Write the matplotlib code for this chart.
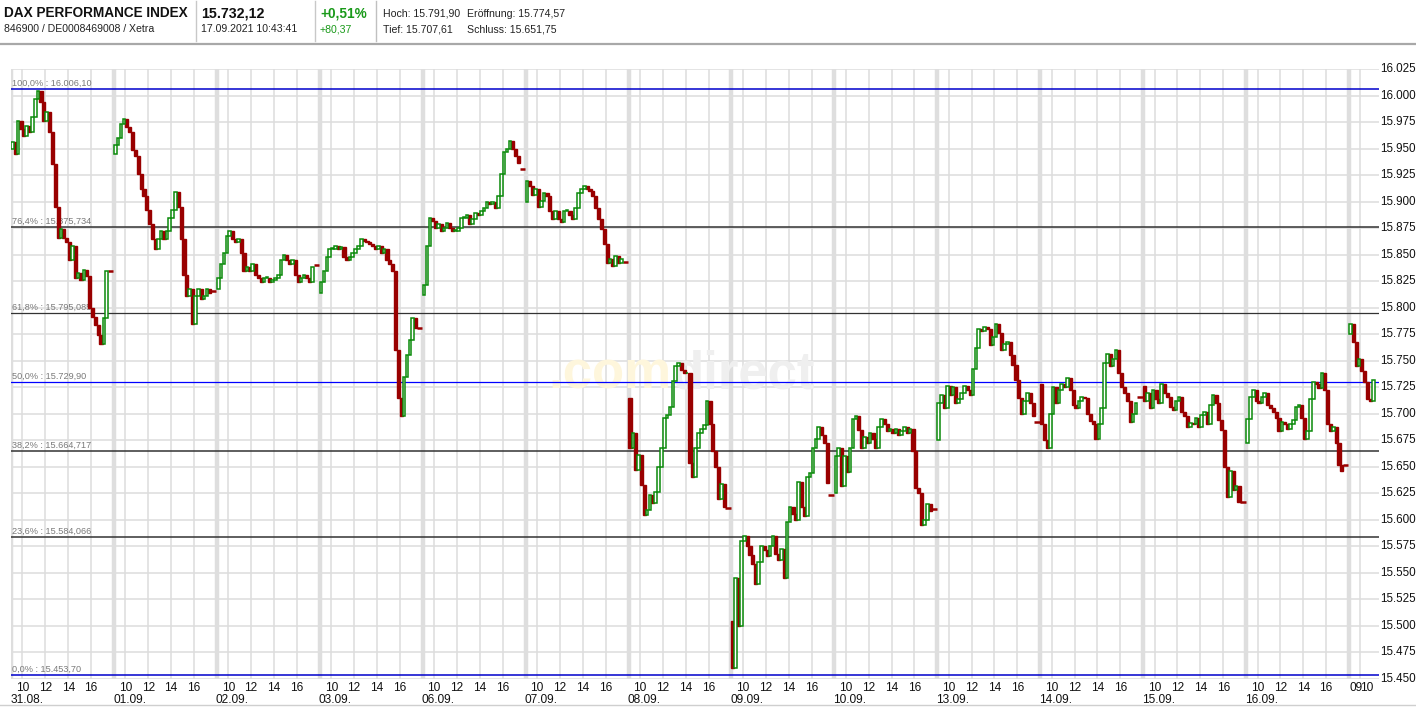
import matplotlib
matplotlib.use('Agg')
import matplotlib.pyplot as plt
from matplotlib.lines import Line2D
import matplotlib.transforms as mtransforms

# ---------------- data ----------------
dates = ['31.08.', '01.09.', '02.09.', '03.09.', '06.09.', '07.09.', '08.09.',
         '09.09.', '10.09.', '13.09.', '14.09.', '15.09.', '16.09.', '17.09.']
hour_labels = ['10', '12', '14', '16']
last_day_hour_labels = ['09', '10']

day_opens = [15950, 15945, 15818, 15814, 15812, 15900, 15715, 15505, 15625,
             15675, 15728, 15726, 15672, 15775]

closes_3108 = [15956, 15945, 15976, 15968, 15962, 15971, 15966, 15980, 15997, 16004,
               15994, 15976, 15984, 15966, 15935, 15895, 15866, 15874, 15866, 15862,
               15845, 15858, 15828, 15833, 15826, 15836, 15830, 15800, 15791, 15784,
               15774, 15766, 15790, 15835]
closes_0109 = [15953, 15960, 15973, 15978, 15970, 15966, 15949, 15943, 15926, 15912,
               15905, 15892, 15879, 15865, 15855, 15865, 15872, 15865, 15872, 15885,
               15892, 15909, 15895, 15865, 15831, 15811, 15818, 15785, 15811, 15818,
               15808, 15811, 15818, 15814]
closes_0209 = [15828, 15841, 15852, 15868, 15872, 15865, 15862, 15865, 15852, 15835,
               15838, 15835, 15841, 15831, 15828, 15824, 15828, 15828, 15824, 15826,
               15828, 15831, 15845, 15850, 15845, 15841, 15845, 15831, 15824, 15828,
               15831, 15828, 15824, 15838]
closes_0309 = [15824, 15835, 15848, 15855, 15855, 15858, 15855, 15857, 15848, 15845,
               15848, 15852, 15855, 15858, 15865, 15863, 15862, 15860, 15858, 15855,
               15858, 15852, 15855, 15845, 15841, 15835, 15760, 15715, 15698, 15735,
               15755, 15770, 15790, 15781]
closes_0609 = [15821, 15858, 15885, 15882, 15875, 15879, 15872, 15875, 15880, 15875,
               15872, 15872, 15875, 15885, 15885, 15887, 15879, 15884, 15889, 15887,
               15891, 15894, 15900, 15898, 15900, 15894, 15905, 15926, 15947, 15950,
               15957, 15950, 15943, 15936]
closes_0709 = [15919, 15915, 15906, 15912, 15895, 15901, 15908, 15905, 15891, 15884,
               15891, 15884, 15881, 15891, 15891, 15887, 15884, 15894, 15908, 15912,
               15915, 15912, 15910, 15905, 15894, 15884, 15874, 15860, 15842, 15846,
               15839, 15849, 15842, 15846]
closes_0809 = [15668, 15682, 15647, 15661, 15633, 15605, 15609, 15623, 15616, 15626,
               15650, 15668, 15696, 15699, 15706, 15731, 15745, 15748, 15741, 15738,
               15738, 15654, 15640, 15668, 15682, 15686, 15689, 15712, 15690, 15665,
               15650, 15620, 15634, 15612]
closes_0909 = [15460, 15545, 15500, 15580, 15585, 15575, 15567, 15558, 15540, 15560,
               15575, 15572, 15566, 15575, 15585, 15568, 15562, 15573, 15545, 15598,
               15612, 15606, 15600, 15636, 15612, 15604, 15640, 15644, 15668, 15676,
               15688, 15680, 15672, 15635]
closes_1009 = [15660, 15668, 15632, 15660, 15645, 15668, 15695, 15698, 15685, 15668,
               15678, 15672, 15682, 15676, 15668, 15688, 15695, 15690, 15684, 15686,
               15682, 15686, 15680, 15684, 15688, 15682, 15686, 15665, 15630, 15625,
               15595, 15600, 15615, 15608]
closes_1309 = [15710, 15718, 15705, 15726, 15718, 15725, 15710, 15714, 15720, 15726,
               15722, 15718, 15742, 15762, 15780, 15778, 15782, 15780, 15765, 15772,
               15785, 15776, 15760, 15766, 15768, 15755, 15746, 15732, 15715, 15700,
               15712, 15720, 15710, 15698]
closes_1409 = [15690, 15675, 15668, 15700, 15725, 15710, 15722, 15728, 15725, 15734,
               15722, 15708, 15705, 15712, 15716, 15715, 15700, 15693, 15690, 15676,
               15690, 15705, 15748, 15756, 15745, 15752, 15760, 15738, 15725, 15720,
               15712, 15692, 15700, 15710]
closes_1509 = [15712, 15720, 15705, 15722, 15714, 15710, 15728, 15720, 15716, 15706,
               15704, 15712, 15716, 15702, 15698, 15688, 15691, 15690, 15696, 15688,
               15699, 15702, 15690, 15708, 15718, 15710, 15694, 15685, 15650, 15622,
               15646, 15628, 15632, 15617]
closes_1609 = [15695, 15716, 15722, 15712, 15710, 15716, 15720, 15708, 15705, 15702,
               15696, 15684, 15692, 15690, 15686, 15690, 15694, 15706, 15708, 15696,
               15676, 15684, 15714, 15730, 15728, 15724, 15738, 15722, 15690, 15684,
               15688, 15672, 15652, 15646]
closes_1709 = [15785, 15768, 15745, 15752, 15740, 15730, 15714, 15712, 15732]

auction_close = [15835, 15816, 15840, 15781, 15931, 15843, 15611, 15623, 15610,
                 15692, 15716, 15617, 15652]

fib_levels = [16006.10, 15875.734, 15795.085, 15729.90, 15664.717, 15584.066, 15453.70]
fib_labels = ['100,0% : 16.006,10', '76,4% : 15.875,734', '61,8% : 15.795,085',
              '50,0% : 15.729,90', '38,2% : 15.664,717', '23,6% : 15.584,066',
              '0,0% : 15.453,70']
price_ticks = list(range(15450, 16026, 25))

all_closes = [closes_3108, closes_0109, closes_0209, closes_0309, closes_0609,
              closes_0709, closes_0809, closes_0909, closes_1009, closes_1309,
              closes_1409, closes_1509, closes_1609, closes_1709]

# ---------------- layout ----------------
W, H = 1416, 707
fig = plt.figure(figsize=(W / 100, H / 100), dpi=100)
fig.patch.set_facecolor('white')
plt.rcParams['font.family'] = ['Liberation Sans', 'DejaVu Sans']

PX_L, PX_R, PX_T, PX_B = 11, 1379, 69, 679
ax = fig.add_axes([PX_L / W, (H - PX_B) / H, (PX_R - PX_L) / W, (PX_B - PX_T) / H])
ax.set_facecolor('white')
DAY = 36                       # 15-min slots per day column
XMAX = (PX_R - PX_L) / (1349 - 11) * (13 * DAY)
ax.set_xlim(0, XMAX)
ax.set_ylim(15450, 16025)
for s in ax.spines.values():
    s.set_visible(False)
ax.set_xticks([])
ax.set_yticks([])

GRID = '#dddddd'
for p in price_ticks:
    ax.axhline(p, color=GRID, lw=1.1, zorder=0.5)
for d in range(len(dates)):
    x0 = d * DAY
    ax.axvline(x0, color='#dedede', lw=3.2, zorder=0.6)
    if d < len(dates) - 1:
        for k in range(len(hour_labels)):
            ax.axvline(x0 + 4 + 8 * k, color=GRID, lw=1.1, zorder=0.5)
    else:
        ax.axvline(x0 + 4, color=GRID, lw=1.1, zorder=0.5)

# watermark
wm_y = 15737
wm_x = 231
ax.text(wm_x, wm_y, '.com', fontsize=38, fontweight='bold', color='#fef6dc',
        ha='right', va='center', zorder=1)
ax.text(wm_x, wm_y, 'direct', fontsize=38, fontweight='bold', color='#efefef',
        ha='left', va='center', zorder=1)

# fibonacci lines
fib_colors = ['#0000cc', '#333333', '#333333', '#0000ff', '#333333', '#333333', '#0000cc']
fib_lw = [1.1, 1.1, 0.9, 0.9, 1.1, 1.1, 1.1]
for lev, lab, col, lw in zip(fib_levels, fib_labels, fib_colors, fib_lw):
    ax.axhline(lev, color=col, lw=lw, zorder=2)
    ax.text(0.5, lev + 1.2, lab, fontsize=6.6, color='#7a7a7a', ha='left', va='bottom',
            zorder=2.5)

# candles
GREEN = '#0a8a0a'
RED = '#990000'
up_x, up_b, up_h, dn_x, dn_b, dn_h = [], [], [], [], [], []
for d, closes in enumerate(all_closes):
    prev = day_opens[d]
    for i, c in enumerate(closes):
        x = d * DAY + i + 0.5
        lo, hi = min(prev, c), max(prev, c)
        h = max(hi - lo, 0.8)
        if c >= prev:
            up_x.append(x); up_b.append(lo); up_h.append(h)
        else:
            dn_x.append(x); dn_b.append(lo); dn_h.append(h)
        prev = c
ax.bar(dn_x, dn_h, bottom=dn_b, width=1.1, color=RED, edgecolor=RED, lw=1.0, zorder=3)
ax.bar(up_x, up_h, bottom=up_b, width=0.9, facecolor='white', edgecolor=GREEN, lw=1.1, zorder=3.2)
for d, a in enumerate(auction_close):
    ax.hlines(a, d * DAY + 33.9, d * DAY + 35.8, color=RED, lw=1.8, zorder=3)

# right price labels
tr_r = mtransforms.blended_transform_factory(ax.transAxes, ax.transData)
for p in price_ticks:
    ax.text(1.0 + 1 / (PX_R - PX_L), p, f'{p:,}'.replace(',', '.'), transform=tr_r,
            fontsize=8.4, ha='left', va='center', color='#111111', clip_on=False)

# bottom labels
tr_b = mtransforms.blended_transform_factory(ax.transData, ax.transAxes)
hy = -(688 - PX_B) / (PX_B - PX_T)
dy = -(700 - PX_B) / (PX_B - PX_T)
for d, dt in enumerate(dates):
    x0 = d * DAY
    if d < len(dates) - 1:
        for k, hl in enumerate(hour_labels):
            ax.text(x0 + 4 + 8 * k, hy, hl, transform=tr_b, fontsize=8.6, ha='center',
                    va='center', color='#111111', clip_on=False)
        ax.text(x0 - 0.3, dy, dt, transform=tr_b, fontsize=8.6, ha='left', va='center',
                color='#111111', clip_on=False)
    else:
        ax.text(x0 + 0.3, hy, last_day_hour_labels[0], transform=tr_b, fontsize=8.6,
                ha='left', va='center', color='#111111', clip_on=False)
        ax.text(x0 + 3.9, hy, last_day_hour_labels[1], transform=tr_b, fontsize=8.6,
                ha='left', va='center', color='#111111', clip_on=False)

# ---------------- header ----------------
def ftxt(x, y, s, **kw):
    fig.text(x / W, 1 - y / H, s, va='center', ha='left', **kw)

ftxt(4, 13, 'DAX PERFORMANCE INDEX', fontsize=9.8, fontweight='bold', color='#111111')
ftxt(4, 29, '846900 / DE0008469008 / Xetra', fontsize=7.6, color='#222222')
ftxt(201, 13, '15.732,12', fontsize=10.3, fontweight='bold', color='#111111')
ftxt(201, 29, '17.09.2021 10:43:41', fontsize=7.6, color='#222222')
ftxt(320, 13, '+0,51%', fontsize=9.8, fontweight='bold', color='#1a9a1a')
ftxt(320, 29, '+80,37', fontsize=7.6, color='#1a9a1a')
ftxt(383, 14, 'Hoch: 15.791,90', fontsize=7.6, color='#222222')
ftxt(467, 14, 'Eröffnung: 15.774,57', fontsize=7.6, color='#222222')
ftxt(383, 29, 'Tief: 15.707,61', fontsize=7.6, color='#222222')
ftxt(467, 29, 'Schluss: 15.651,75', fontsize=7.6, color='#222222')

for sx, col in [(196, '#c8c8c8'), (315, '#c8c8c8'), (376, '#c0c0c0')]:
    fig.add_artist(Line2D([sx / W, sx / W], [1 - 1 / H, 1 - 41 / H], color=col, lw=1.0))
fig.add_artist(Line2D([0, 1], [1 - 43.5 / H, 1 - 43.5 / H], color='#a8a8a8', lw=1.6))
fig.add_artist(Line2D([0, 1], [1 - 705 / H, 1 - 705 / H], color='#cfcfcf', lw=1.0))

fig.savefig('out.png', dpi=100, facecolor='white')
